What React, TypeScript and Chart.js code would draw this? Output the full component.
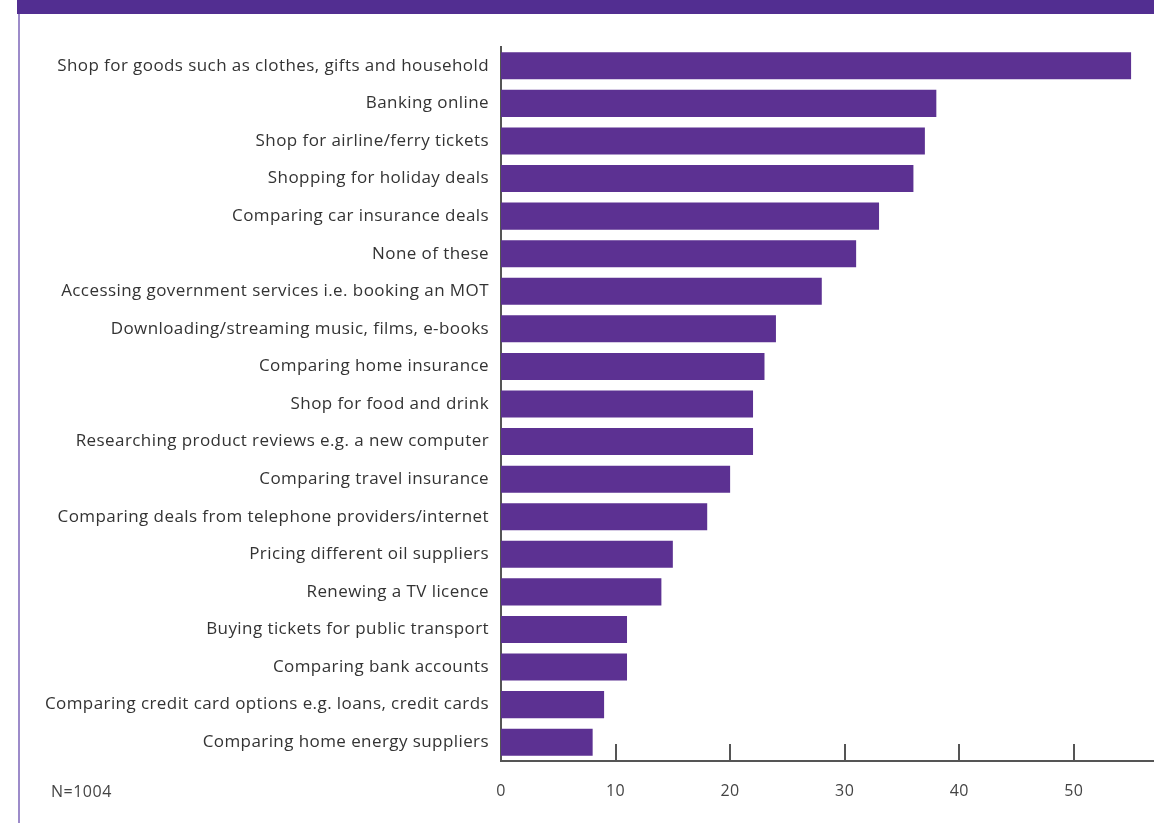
import React, { useEffect, useRef } from "react";
import { Chart, registerables } from "chart.js";

Chart.register(...registerables);

const categories = [
  "Shop for goods such as clothes, gifts and household",
  "Banking online",
  "Shop for airline/ferry tickets",
  "Shopping for holiday deals",
  "Comparing car insurance deals",
  "None of these",
  "Accessing government services i.e. booking an MOT",
  "Downloading/streaming music, films, e-books",
  "Comparing home insurance",
  "Shop for food and drink",
  "Researching product reviews e.g. a new computer",
  "Comparing travel insurance",
  "Comparing deals from telephone providers/internet",
  "Pricing different oil suppliers",
  "Renewing a TV licence",
  "Buying tickets for public transport",
  "Comparing bank accounts",
  "Comparing credit card options e.g. loans, credit cards",
  "Comparing home energy suppliers",
];

const values = [55, 38, 37, 36, 33, 31, 28, 24, 23, 22, 22, 20, 18, 15, 14, 11, 11, 9, 8];

const xTicks = [0, 10, 20, 30, 40, 50];
const sampleNote = "N=1004";

const FONT = "'Open Sans', sans-serif";

const spacing = {
  id: "spacing",
  beforeDraw(chart: any) {
    chart.ctx.letterSpacing = "0.42px";
  },
};

const upTicks = {
  id: "upTicks",
  afterDraw(chart: any) {
    const x = chart.scales.x;
    const ctx = chart.ctx;
    const bottom = chart.chartArea.bottom;
    ctx.save();
    ctx.strokeStyle = "#555555";
    ctx.lineWidth = 2;
    xTicks.forEach((v) => {
      if (v === 0) return;
      const px = Math.round(x.getPixelForValue(v));
      ctx.beginPath();
      ctx.moveTo(px, bottom);
      ctx.lineTo(px, bottom - 17);
      ctx.stroke();
    });
    ctx.restore();
  },
};

export default function App() {
  const ref = useRef<HTMLCanvasElement>(null);
  useEffect(() => {
    if (!ref.current) return;
    const chart = new Chart(ref.current, {
      type: "bar",
      data: {
        labels: categories,
        datasets: [
          {
            data: values,
            backgroundColor: "#5c3192",
            barPercentage: 0.72,
            categoryPercentage: 1,
          },
        ],
      },
      options: {
        indexAxis: "y",
        animation: false,
        responsive: false,
        maintainAspectRatio: false,
        layout: { padding: { top: 47, right: 0, bottom: 0, left: 0 } },
        plugins: { legend: { display: false }, tooltip: { enabled: false } },
        scales: {
          x: {
            min: 0,
            max: 57,
            grid: { display: false, drawTicks: false },
            border: { display: true, color: "#555555", width: 2 },
            afterFit: (s: any) => {
              s.height = 62;
            },
            afterBuildTicks: (s: any) => {
              s.ticks = xTicks.map((v) => ({ value: v }));
            },
            ticks: {
              color: "#444444",
              font: { family: FONT, size: 16 },
              padding: 21,
            },
          },
          y: {
            grid: { display: false, drawTicks: false },
            border: { display: true, color: "#555555", width: 2 },
            afterFit: (s: any) => {
              s.width = 501;
            },
            ticks: {
              color: "#333333",
              font: { family: FONT, size: 17 },
              padding: 12,
              autoSkip: false,
            },
          },
        },
      },
      plugins: [spacing, upTicks],
    });
    return () => chart.destroy();
  }, []);

  return (
    <div style={{ position: "fixed", left: 0, top: 0, width: 1154, height: 823, background: "#ffffff", overflow: "hidden" }}>
      <div style={{ position: "absolute", left: 17, top: 0, width: 1137, height: 14, background: "#522e91" }} />
      <div style={{ position: "absolute", left: 18, top: 14, width: 2, height: 809, background: "#9d8cca" }} />
      <canvas ref={ref} width={1154} height={823} style={{ position: "absolute", left: 0, top: 0 }} />
      <div
        style={{
          position: "absolute",
          left: 51,
          top: 780,
          fontFamily: FONT,
          fontSize: 16,
          letterSpacing: "0.5px",
          color: "#444444",
          lineHeight: "22px",
        }}
      >
        {sampleNote}
      </div>
    </div>
  );
}
